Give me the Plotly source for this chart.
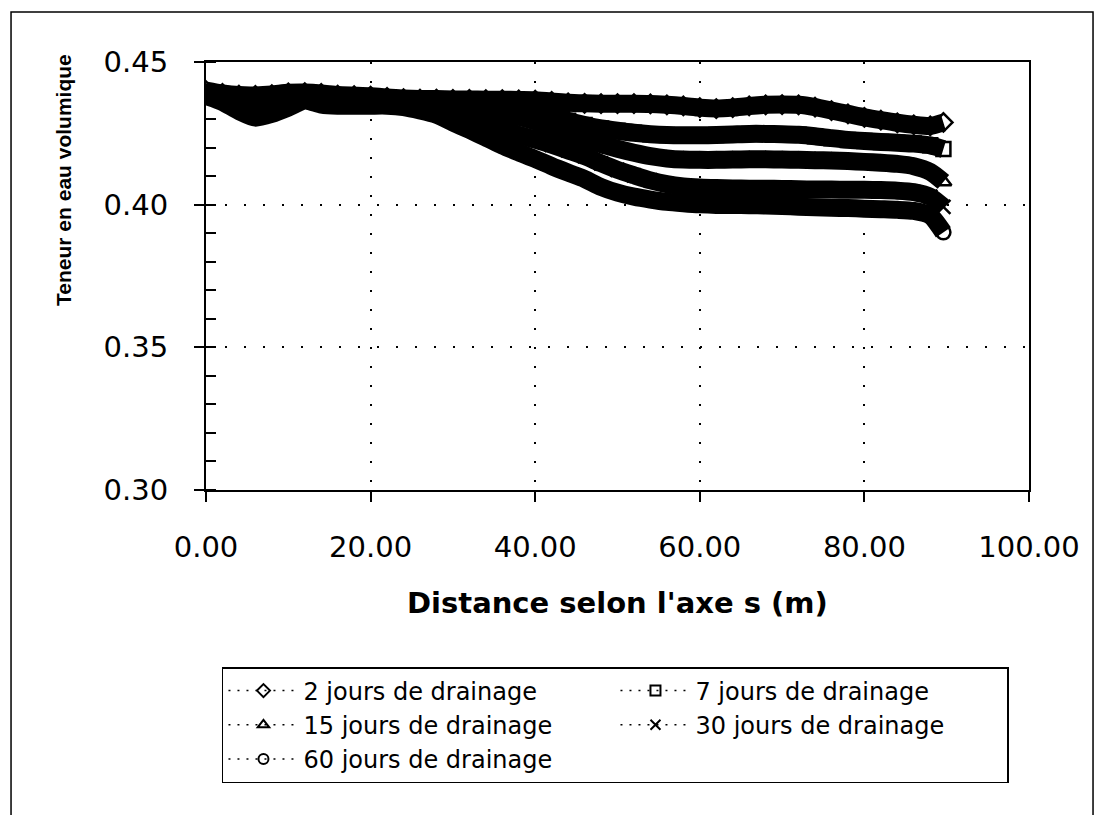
import plotly.graph_objects as go

# Distance along the s axis (m)
distance = [0, 2, 4, 6, 8, 10, 12, 14, 16, 18, 20, 22, 24, 26, 28, 30, 32, 34, 36, 38,
            40, 42, 44, 46, 48, 50, 52, 54, 56, 58, 60, 62, 64, 66, 68, 70, 72, 74, 76, 78,
            80, 82, 84, 86, 88, 89.6]

# Volumetric water content, one list per drainage time
jours_2 = [0.4400, 0.4390, 0.4384, 0.4383, 0.4386, 0.4392, 0.4393, 0.4390, 0.4384, 0.4382,
           0.4380, 0.4376, 0.4372, 0.4370, 0.4370, 0.4369, 0.4369, 0.4368, 0.4368, 0.4367,
           0.4366, 0.4362, 0.4357, 0.4355, 0.4354, 0.4354, 0.4354, 0.4353, 0.4350, 0.4346,
           0.4340, 0.4337, 0.4340, 0.4346, 0.4350, 0.4351, 0.4350, 0.4342, 0.4330, 0.4318,
           0.4306, 0.4296, 0.4287, 0.4280, 0.4276, 0.4288]
jours_7 = [0.4396, 0.4385, 0.4378, 0.4377, 0.4380, 0.4386, 0.4388, 0.4385, 0.4378, 0.4376,
           0.4374, 0.4370, 0.4367, 0.4366, 0.4366, 0.4365, 0.4365, 0.4364, 0.4360, 0.4348,
           0.4332, 0.4313, 0.4294, 0.4279, 0.4267, 0.4259, 0.4252, 0.4247, 0.4244, 0.4243,
           0.4243, 0.4244, 0.4246, 0.4248, 0.4248, 0.4247, 0.4245, 0.4240, 0.4233, 0.4227,
           0.4223, 0.4220, 0.4217, 0.4214, 0.4208, 0.4195]
jours_15 = [0.4392, 0.4378, 0.4365, 0.4360, 0.4365, 0.4375, 0.4382, 0.4375, 0.4370, 0.4370,
            0.4370, 0.4369, 0.4368, 0.4364, 0.4358, 0.4350, 0.4340, 0.4330, 0.4320, 0.4308,
            0.4292, 0.4272, 0.4252, 0.4232, 0.4212, 0.4196, 0.4182, 0.4170, 0.4162, 0.4158,
            0.4157, 0.4157, 0.4158, 0.4159, 0.4159, 0.4158, 0.4157, 0.4156, 0.4155, 0.4153,
            0.4150, 0.4147, 0.4143, 0.4135, 0.4115, 0.4080]
jours_30 = [0.4385, 0.4368, 0.4345, 0.4330, 0.4338, 0.4352, 0.4370, 0.4360, 0.4355, 0.4355,
            0.4355, 0.4354, 0.4350, 0.4345, 0.4330, 0.4315, 0.4300, 0.4283, 0.4265, 0.4245,
            0.4228, 0.4210, 0.4190, 0.4170, 0.4145, 0.4122, 0.4103, 0.4085, 0.4072, 0.4064,
            0.4060, 0.4058, 0.4057, 0.4056, 0.4056, 0.4055, 0.4054, 0.4053, 0.4053, 0.4052,
            0.4052, 0.4051, 0.4049, 0.4044, 0.4028, 0.3992]
jours_60 = [0.4381, 0.4360, 0.4328, 0.4305, 0.4318, 0.4340, 0.4365, 0.4351, 0.4347, 0.4347,
            0.4347, 0.4347, 0.4342, 0.4330, 0.4315, 0.4288, 0.4262, 0.4235, 0.4207, 0.4183,
            0.4160, 0.4135, 0.4112, 0.4090, 0.4062, 0.4042, 0.4028, 0.4018, 0.4010, 0.4005,
            0.4001, 0.3999, 0.3999, 0.3998, 0.3997, 0.3995, 0.3993, 0.3991, 0.3989, 0.3988,
            0.3986, 0.3984, 0.3982, 0.3978, 0.3962, 0.3903]

series = [
    ("2 jours de drainage", jours_2, "diamond-open"),
    ("7 jours de drainage", jours_7, "square-open"),
    ("15 jours de drainage", jours_15, "triangle-up-open"),
    ("30 jours de drainage", jours_30, "x-thin-open"),
    ("60 jours de drainage", jours_60, "circle-open"),
]

x_ticks = [0, 20, 40, 60, 80, 100]
y_ticks = [0.30, 0.35, 0.40, 0.45]

FONT = "DejaVu Sans"

fig = go.Figure()

# dense markers in the original merge into thick black bands
for name, y, sym in series:
    fig.add_trace(go.Scatter(
        x=distance, y=y, mode="lines", showlegend=False, hoverinfo="skip",
        line=dict(color="black", width=18, shape="spline", smoothing=0.6),
    ))

for name, y, sym in series:
    fig.add_trace(go.Scatter(
        x=distance, y=y, mode="markers", name=name, showlegend=False,
        marker=dict(symbol=sym, size=14, color="black",
                    line=dict(color="black", width=2.5)),
    ))

# legend entries (smaller symbols, dotted line as in the original)
for name, y, sym in series:
    fig.add_trace(go.Scatter(
        x=[None], y=[None], mode="lines+markers", name=name,
        line=dict(color="black", width=1.5, dash="2px,7px"),
        marker=dict(symbol=sym, size=10, color="black",
                    line=dict(color="black", width=2)),
    ))

fig.update_layout(
    width=1102, height=815,
    margin=dict(l=206, r=73, t=62, b=325),
    paper_bgcolor="white", plot_bgcolor="white",
    font=dict(family=FONT, color="black"),
    showlegend=True,
    legend=dict(
        orientation="h", x=0.0194, xanchor="left", y=-0.4136, yanchor="top",
        bordercolor="black", borderwidth=1.5, bgcolor="white",
        font=dict(size=24, family=FONT, color="black"),
        itemwidth=70, entrywidth=307, traceorder="normal",
    ),
)

fig.update_xaxes(
    range=[0, 100], tickvals=x_ticks, tickformat=".2f",
    showline=True, linecolor="black", linewidth=2, mirror=True,
    ticks="outside", ticklen=10, tickwidth=2, tickcolor="black",
    showgrid=True, gridcolor="black", gridwidth=1.5, griddash="2px,17px",
    zeroline=False, tickfont=dict(size=29, family=FONT), ticklabelstandoff=20,
)
fig.update_yaxes(
    range=[0.30, 0.45], tickvals=y_ticks, tickformat=".2f",
    showline=True, linecolor="black", linewidth=2, mirror=True,
    ticks="outside", ticklen=10, tickwidth=2, tickcolor="black",
    minor=dict(ticks="inside", dtick=0.01, ticklen=10, tickwidth=2, tickcolor="black",
               showgrid=False),
    showgrid=True, gridcolor="black", gridwidth=1.5, griddash="2px,17px",
    zeroline=False, tickfont=dict(size=29, family=FONT), ticklabelstandoff=20,
)

fig.add_annotation(
    text="<b>Distance selon l'axe s (m)</b>", xref="paper", yref="paper",
    x=0.5, y=-0.264, xanchor="center", yanchor="middle", showarrow=False,
    font=dict(size=29, family=FONT, color="black"),
)
fig.add_annotation(
    text="<b>Teneur en eau volumique</b>", xref="paper", yref="paper",
    x=-0.174, y=0.724, xanchor="center", yanchor="middle", showarrow=False,
    textangle=-90, font=dict(size=21, family="Liberation Sans", color="black"),
)

# outer chart frame (bottom edge falls outside the page, as in the scan)
fig.add_shape(type="rect", xref="paper", yref="paper",
              x0=-0.2369, x1=1.0778, y0=-0.78, y1=1.1168,
              line=dict(color="black", width=1.5), layer="below")

fig.write_html("out.html", config={"displayModeBar": False},
               post_script="document.body.style.margin='0px';")
